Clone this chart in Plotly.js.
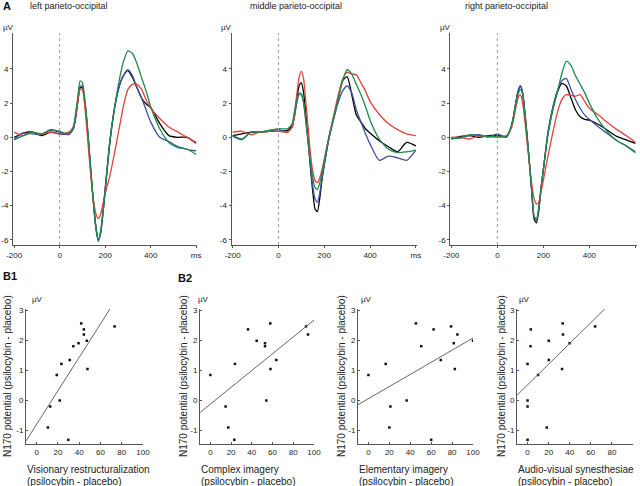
<!DOCTYPE html>
<html>
<head>
<meta charset="utf-8">
<script src="https://cdn.plot.ly/plotly-3.0.1.min.js"></script>
<style>html,body{margin:0;padding:0;background:#fff;}#chart{width:640px;height:486px;}</style>
</head>
<body>
<div id="chart"></div>
<script>
// ---------- DATA ----------
const timeMs = [-200,-160,-120,-80,-40,0,40,60,70,80,90,100,110,120,130,140,150,160,170,180,190,200,220,240,260,280,300,320,340,360,380,400,440,480,520,560,600];

const panelTitles = ["left parieto-occipital", "middle parieto-occipital", "right parieto-occipital"];
const conditionColors = ["#000000", "#3d51a3", "#e5413b", "#1f8b4c"];

const leftBlack = [0.0,0.25,0.3,0.1,0.3,0.2,0.2,0.5,1.1,2.1,2.9,2.9,2.1,0.8,-0.8,-2.5,-4.0,-5.3,-6.0,-5.6,-4.5,-3.1,-0.4,1.6,2.9,3.6,3.9,3.5,2.9,2.3,1.95,1.75,0.8,0.1,0.0,0.0,-0.35];
const leftBlue = [-0.1,0.25,0.2,0.15,0.4,0.3,0.15,0.5,1.2,2.2,3.0,3.0,2.2,0.9,-0.8,-2.5,-4.1,-5.4,-6.0,-5.5,-4.4,-3.0,-0.3,1.6,2.9,3.6,3.95,3.6,2.9,2.3,1.6,0.9,0.0,-0.25,-0.55,-0.7,-0.8];
const leftRed = [0.3,0.1,0.3,0.2,0.3,0.2,0.3,0.6,1.2,2.1,2.8,2.8,1.9,0.4,-1.2,-2.7,-3.8,-4.5,-4.75,-4.5,-3.9,-3.3,-2.3,-1.0,0.4,1.8,2.8,3.1,3.1,2.8,2.2,1.7,1.1,0.6,0.3,0.0,-0.3];
const leftGreen = [-0.15,0.1,0.3,0.2,0.45,0.35,0.2,0.6,1.4,2.4,3.3,3.2,2.3,1.0,-0.7,-2.4,-4.0,-5.4,-6.1,-5.6,-4.5,-3.2,-0.3,1.6,3.2,4.4,5.05,4.9,4.3,3.5,2.7,1.8,0.5,-0.3,-0.6,-0.7,-1.0];

const midBlack = [0.1,0.2,0.3,0.3,0.35,0.35,0.4,0.7,1.3,2.2,3.0,3.2,2.6,1.3,-0.2,-1.8,-3.2,-4.2,-4.35,-3.6,-2.5,-1.6,-0.1,1.1,2.2,3.3,3.55,2.5,1.3,0.9,0.5,0.25,-0.2,-0.55,-0.85,-0.3,-0.5];
const midBlue = [0.1,-0.1,0.3,0.3,0.4,0.45,0.3,0.6,1.2,2.0,2.5,2.5,2.0,0.9,-0.4,-1.7,-2.9,-3.6,-3.8,-3.3,-2.4,-1.6,-0.1,1.0,2.0,2.7,3.0,2.6,1.6,0.9,0.2,-0.4,-1.35,-1.1,-1.2,-1.35,-0.75];
const midRed = [0.3,0.35,0.15,0.3,0.35,0.35,0.3,0.6,1.4,2.5,3.5,3.85,3.4,2.0,0.5,-1.0,-2.0,-2.55,-2.65,-2.4,-1.9,-1.3,0.0,1.2,2.4,3.4,3.8,3.7,3.65,3.2,2.7,2.1,1.35,0.8,0.45,0.2,0.1];
const midGreen = [0.05,-0.15,0.3,0.3,0.4,0.5,0.5,0.8,1.5,2.2,2.6,2.55,2.0,0.9,-0.3,-1.4,-2.4,-2.95,-3.05,-2.7,-2.1,-1.4,0.0,1.1,2.2,3.3,3.95,3.7,3.1,2.5,1.8,1.0,-0.1,-0.7,-0.9,-0.85,-0.75];

const rightBlack = [-0.1,0.05,0.1,0.0,0.1,0.1,0.05,0.6,1.2,2.0,2.7,3.0,2.6,1.4,0.0,-1.6,-3.3,-4.8,-5.0,-4.3,-3.0,-1.9,0.2,1.6,2.6,3.15,3.0,2.3,1.6,1.2,1.05,1.0,0.75,0.4,0.05,-0.15,-0.35];
const rightBlue = [0.0,-0.05,0.1,0.15,0.0,0.2,0.0,0.6,1.2,2.0,2.7,3.0,2.6,1.4,0.0,-1.6,-3.2,-4.7,-4.85,-4.2,-3.0,-1.9,0.3,1.7,2.7,3.3,3.45,2.8,2.2,1.7,1.3,1.05,0.6,0.2,-0.2,-0.5,-0.85];
const rightRed = [0.0,0.0,-0.1,0.1,0.05,0.0,0.1,0.5,1.0,1.7,2.3,2.5,2.0,0.9,-0.4,-1.6,-2.8,-3.6,-3.9,-3.8,-3.2,-2.5,-1.1,0.2,1.4,2.2,2.5,2.45,2.4,2.5,2.1,1.7,1.3,0.85,0.45,0.1,-0.3];
const rightGreen = [-0.1,0.0,0.15,0.1,0.05,0.05,0.05,0.6,1.2,1.9,2.5,2.8,2.5,1.3,-0.1,-1.6,-3.1,-4.6,-4.8,-4.1,-2.9,-1.9,0.2,1.5,2.6,3.7,4.45,4.2,3.6,3.1,2.6,2.0,1.0,0.3,-0.2,-0.5,-0.9];

const xTickVals = [-200, 0, 200, 400, 600];
const xTickText = ["-200", "0", "200", "400", "ms"];
const yTickVals = [-6, -4, -2, 0, 2, 4];
const yTickText = ["-6", "-4", "-2", "0", "2", "4"];

// Scatter panels (B)
const n170Diff = [2.57, 2.47, 2.37, 2.20, 1.99, 1.91, 1.81, 1.35, 1.22, 1.05, 0.85, 0.00, -0.20, -0.90, -1.31];
const visionary = [41.9, 73.3, 44.4, 44.4, 47.2, 39.4, 34.5, 31.1, 23.3, 47.8, 18.9, 21.7, 12.7, 10.6, 29.8];
const complexImagery = [57.8, 92.3, 36.3, 94.2, 44.7, 52.7, 52.7, 63.6, 23.7, 58.0, 0.0, 54.0, 14.7, 17.3, 23.1];
const elementaryImagery = [45.4, 79.0, 62.3, 85.1, 100.0, 81.6, 50.5, 69.2, 16.5, 82.6, 0.0, 36.5, 21.0, 20.0, 60.0];
const audioVisual = [33.3, 64.1, 3.1, 33.6, 20.1, 39.9, 2.8, 20.1, 0.0, 32.7, 10.0, 0.0, 0.0, 18.2, 0.0];
const scatterLabels = ["Visionary restructuralization", "Complex imagery", "Elementary imagery", "Audio-visual synesthesiae"];
const fitSlope = [0.0557, 0.028, 0.0202, 0.0346];
const fitIntercept = [-0.79, -0.12, 0.062, 0.52];
const bXTicks = [0, 20, 40, 60, 80, 100];
const bYTicks = [-1, 0, 1, 2, 3];
const bYTickText = ["-1", "0", "1", "2", "3"];

// ---------- LAYOUT HELPERS ----------
const W = 640, H = 486;
const fx = p => p / W;
const fy = p => 1 - p / H;
const FONT = "Liberation Sans, Arial, Helvetica, sans-serif";

const topX = [[13, 197.3], [231.5, 417], [450.2, 636.5]];
const topY = [33, 245];
const botX = [[26, 143], [200, 314], [358, 473], [517, 633]];
const botY = [309, 444];

const waveSets = [
  [leftBlack, leftBlue, leftRed, leftGreen],
  [midBlack, midBlue, midRed, midGreen],
  [rightBlack, rightBlue, rightRed, rightGreen]
];
const scatterX = [visionary, complexImagery, elementaryImagery, audioVisual];

const traces = [];
const layout = {
  width: W, height: H,
  margin: {l: 0, r: 0, t: 0, b: 0},
  paper_bgcolor: "#fff", plot_bgcolor: "#fff",
  showlegend: false,
  font: {family: FONT, size: 8, color: "#222"},
  annotations: [],
  shapes: []
};

function axisBase() {
  return {
    showline: true, linecolor: "#555", linewidth: 1,
    showgrid: false, zeroline: false,
    tickfont: {family: FONT, size: 8, color: "#222"},
    tickcolor: "#555", fixedrange: true
  };
}

// Top ERP panels
waveSets.forEach((set, p) => {
  const s = p === 0 ? "" : String(p + 1);
  set.forEach((vals, c) => {
    traces.push({
      x: timeMs, y: vals, xaxis: "x" + s, yaxis: "y" + s,
      type: "scatter", mode: "lines", hoverinfo: "skip",
      line: {color: conditionColors[c], width: 1.3, shape: "spline", smoothing: 0.6}
    });
  });
  layout["xaxis" + s] = Object.assign(axisBase(), {
    domain: [fx(topX[p][0]), fx(topX[p][1])], range: [-205, 605],
    anchor: "y" + s, tickmode: "array", tickvals: xTickVals, ticktext: xTickText,
    ticks: "outside", ticklen: 2
  });
  layout["yaxis" + s] = Object.assign(axisBase(), {
    domain: [fy(topY[1]), fy(topY[0])], range: [-6.3, 6.1],
    anchor: "x" + s, tickmode: "array", tickvals: yTickVals, ticktext: yTickText,
    ticks: "outside", ticklen: 2
  });
  layout.shapes.push({
    type: "line", xref: "x" + s, yref: "y" + s + " domain",
    x0: 0, x1: 0, y0: 0, y1: 1,
    line: {color: "#999", width: 1, dash: "dot"}
  });
  layout.annotations.push({
    text: panelTitles[p], xref: "paper", yref: "paper",
    x: fx([28, 248, 463][p]), y: fy(6), xanchor: "left", yanchor: "middle",
    showarrow: false, font: {family: FONT, size: 9, color: "#222"}
  });
  layout.annotations.push({
    text: "µV", xref: "paper", yref: "paper",
    x: fx([1, 219, 438][p]), y: fy(28), xanchor: "left", yanchor: "middle",
    showarrow: false, font: {family: FONT, size: 8, color: "#222"}
  });
});

// Bottom scatter panels
scatterX.forEach((xs, k) => {
  const idx = k + 4;
  const s = String(idx);
  traces.push({
    x: xs, y: n170Diff, xaxis: "x" + s, yaxis: "y" + s,
    type: "scatter", mode: "markers", hoverinfo: "skip",
    marker: {symbol: "square", size: 2.5, color: "#111"}
  });
  const fitX = [-10, 100];
  traces.push({
    x: fitX, y: fitX.map(v => fitIntercept[k] + fitSlope[k] * v),
    xaxis: "x" + s, yaxis: "y" + s, type: "scatter", mode: "lines", hoverinfo: "skip",
    line: {color: "#666", width: 1}
  });
  layout["xaxis" + s] = Object.assign(axisBase(), {
    domain: [fx(botX[k][0]), fx(botX[k][1])], range: [-10, 100],
    anchor: "y" + s, tickmode: "array", tickvals: bXTicks,
    ticks: "inside", ticklen: 2
  });
  layout["yaxis" + s] = Object.assign(axisBase(), {
    domain: [fy(botY[1]), fy(botY[0])], range: [-1.45, 3.05],
    anchor: "x" + s, tickmode: "array", tickvals: bYTicks, ticktext: bYTickText,
    ticks: "inside", ticklen: 2
  });
  layout.annotations.push({
    text: "µV", xref: "paper", yref: "paper",
    x: fx([30, 196, 359, 517][k]), y: fy(299), xanchor: "left", yanchor: "middle",
    showarrow: false, font: {family: FONT, size: 8, color: "#222"}
  });
  layout.annotations.push({
    text: "N170 potential (psilocybin - placebo)", xref: "paper", yref: "paper",
    x: fx([7, 183, 341, 501][k]), y: fy(376), xanchor: "center", yanchor: "middle",
    textangle: -90, showarrow: false, font: {family: FONT, size: 10, color: "#222"}
  });
  layout.annotations.push({
    text: scatterLabels[k], xref: "paper", yref: "paper",
    x: fx(botX[k][0] - 1), y: fy(469), xanchor: "left", yanchor: "middle",
    showarrow: false, font: {family: FONT, size: 10, color: "#222"}
  });
  layout.annotations.push({
    text: "(psilocybin - placebo)", xref: "paper", yref: "paper",
    x: fx(botX[k][0] - 1), y: fy(481), xanchor: "left", yanchor: "middle",
    showarrow: false, font: {family: FONT, size: 10, color: "#222"}
  });
});

// Panel letters
[["A", 1, 6], ["B1", 1, 276], ["B2", 176, 278]].forEach(([t, x, y]) => {
  layout.annotations.push({
    text: "<b>" + t + "</b>", xref: "paper", yref: "paper",
    x: fx(x), y: fy(y), xanchor: "left", yanchor: "middle",
    showarrow: false, font: {family: FONT, size: 11, color: "#111"}
  });
});

Plotly.newPlot("chart", traces, layout, {staticPlot: true, displayModeBar: false});
</script>
</body>
</html>
